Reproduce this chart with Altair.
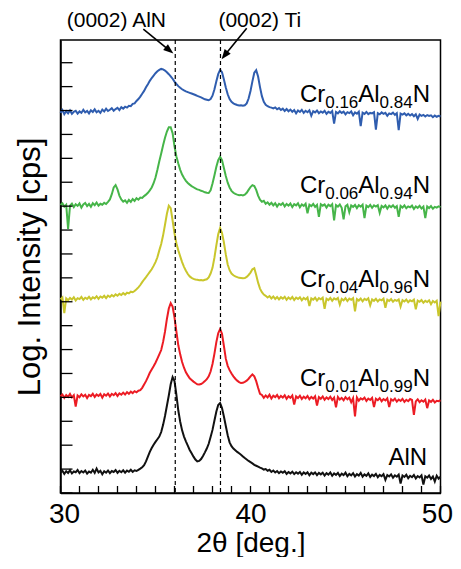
import altair as alt
import pandas as pd

FONT = "Liberation Sans"

# 2-theta grid (deg.)
two_theta = [round(30 + 0.1 * i, 1) for i in range(201)]

# log intensity (decades, stacked with offsets)
log_i_cr016 = [
    15.90, 16.02, 15.85, 15.97, 15.88, 16.00, 15.86, 15.95, 15.99, 15.87,
    15.96, 15.90, 16.03, 15.92, 15.98, 15.88, 16.01, 15.94, 16.05, 15.93,
    15.99, 15.90, 16.04, 15.96, 16.08, 15.98, 16.03, 16.10, 15.99, 16.06,
    16.11, 16.02, 16.14, 16.08, 16.16, 16.12, 16.20, 16.18, 16.28, 16.30,
    16.40, 16.48, 16.58, 16.70, 16.82, 16.97, 17.10, 17.24, 17.36, 17.46,
    17.56, 17.64, 17.70, 17.74, 17.72, 17.67, 17.60, 17.52, 17.43, 17.33,
    17.21, 17.11, 17.02, 16.95, 16.89, 16.84, 16.80, 16.77, 16.74, 16.71,
    16.68, 16.65, 16.61, 16.58, 16.55, 16.51, 16.47, 16.45, 16.43, 16.48,
    16.62, 16.88, 17.21, 17.52, 17.70, 17.60, 17.30, 16.96, 16.68, 16.48,
    16.36, 16.30, 16.26, 16.23, 16.21, 16.22, 16.20, 16.22, 16.30, 16.50,
    16.82, 17.22, 17.58, 17.69, 17.42, 16.98, 16.60, 16.36, 16.24, 16.18,
    16.14, 16.12, 16.09, 16.13, 16.05, 16.10, 16.02, 16.08, 15.98, 16.06,
    15.97, 16.04, 15.95, 16.02, 15.88, 16.00, 15.94, 16.03, 15.90, 15.99,
    15.93, 16.01, 15.78, 15.97, 15.92, 16.00, 15.89, 15.96, 15.91, 15.99,
    15.86, 15.95, 15.90, 15.98, 15.45, 15.94, 15.88, 15.97, 15.90, 15.95,
    15.84, 15.93, 15.89, 15.96, 15.80, 15.92, 15.87, 15.95, 15.35, 15.91,
    15.86, 15.94, 15.85, 15.90, 15.88, 15.93, 15.20, 15.89, 15.84, 15.92,
    15.86, 15.90, 15.78, 15.88, 15.85, 15.91, 15.82, 15.89, 15.18, 15.87,
    15.83, 15.88, 15.80, 15.86, 15.79, 15.85, 15.76, 15.84, 15.65, 15.83,
    15.78, 15.82, 15.75, 15.81, 15.77, 15.80, 15.72, 15.79, 15.74, 15.78,
    15.75,
]

log_i_cr006 = [
    12.05, 12.12, 11.98, 12.06, 11.05, 12.02, 12.10, 11.96, 12.08, 12.01,
    12.11, 11.94, 12.07, 12.13, 12.00, 12.09, 11.97, 12.12, 12.04, 12.15,
    12.02, 12.10, 12.06, 12.14, 12.09, 12.18, 12.28, 12.50, 12.78, 12.88,
    12.70, 12.44, 12.28, 12.19, 12.24, 12.14, 12.26, 12.18, 12.30, 12.22,
    12.33, 12.27, 12.36, 12.34, 12.42, 12.48, 12.56, 12.66, 12.78, 12.96,
    13.20, 13.52, 13.88, 14.20, 14.55, 14.86, 15.12, 15.30, 15.30, 15.05,
    14.50, 14.08, 13.78, 13.52, 13.32, 13.18, 13.06, 12.97, 12.90, 12.84,
    12.79, 12.74, 12.70, 12.68, 12.64, 12.62, 12.58, 12.56, 12.55, 12.66,
    12.95, 13.28, 13.64, 13.92, 14.06, 13.92, 13.60, 13.26, 12.98, 12.78,
    12.64, 12.56, 12.51, 12.48, 12.46, 12.47, 12.45, 12.48, 12.56, 12.68,
    12.80, 12.88, 12.84, 12.68, 12.44, 12.27, 12.18, 12.22, 12.10, 12.16,
    12.06, 12.14, 12.03, 12.12, 11.98, 12.10, 12.05, 12.13, 11.99, 12.09,
    12.02, 12.11, 11.96, 12.08, 12.03, 12.12, 11.95, 12.07, 12.01, 12.10,
    11.70, 12.06, 12.00, 12.09, 11.97, 12.05, 11.55, 12.08, 12.02, 12.07,
    11.94, 12.06, 12.00, 12.08, 11.40, 12.04, 11.98, 12.07, 11.93, 11.45,
    11.99, 12.06, 11.75, 12.03, 11.97, 12.05, 11.92, 12.04, 11.98, 12.06,
    11.50, 12.02, 11.96, 12.05, 11.93, 12.03, 11.98, 12.04, 11.72, 12.01,
    11.95, 12.03, 11.90, 12.02, 11.96, 12.04, 11.93, 12.00, 11.55, 12.01,
    11.94, 12.03, 11.91, 11.99, 11.95, 12.02, 11.88, 11.99, 11.93, 12.01,
    11.90, 11.98, 11.50, 11.99, 11.92, 12.00, 11.89, 11.97, 11.94, 11.99,
    11.96,
]

log_i_cr004 = [
    8.10, 8.18, 7.52, 8.14, 8.06, 8.16, 8.09, 8.19, 8.05, 8.15,
    8.11, 8.20, 8.08, 8.17, 8.12, 8.21, 8.10, 8.19, 8.14, 8.23,
    8.12, 8.22, 8.17, 8.25, 8.15, 8.26, 8.20, 8.28, 8.22, 8.31,
    8.25, 8.33, 8.28, 8.36, 8.30, 8.38, 8.35, 8.42, 8.40, 8.45,
    8.52, 8.60, 8.70, 8.82, 8.93, 9.03, 9.14, 9.25, 9.36, 9.50,
    9.66, 9.86, 10.15, 10.42, 10.78, 11.22, 11.68, 12.02, 11.92, 11.40,
    10.86, 10.45, 10.15, 9.90, 9.66, 9.46, 9.30, 9.16, 9.06, 9.00,
    8.96, 8.93, 8.92, 8.90, 8.91, 8.89, 8.92, 8.94, 9.02, 9.18,
    9.42, 9.84, 10.35, 10.82, 11.08, 10.88, 10.48, 9.98, 9.56, 9.32,
    9.18, 9.11, 9.06, 9.03, 9.00, 8.99, 8.98, 8.99, 9.04, 9.12,
    9.22, 9.36, 9.40, 9.12, 8.80, 8.55, 8.40, 8.30, 8.25, 8.18,
    8.24, 8.14, 8.22, 8.12, 8.20, 8.10, 8.19, 8.13, 8.21, 8.08,
    8.18, 8.11, 8.20, 8.07, 8.17, 8.12, 8.19, 8.06, 8.16, 8.10,
    8.18, 7.82, 8.14, 8.09, 8.17, 8.05, 8.15, 8.10, 8.17, 7.70,
    8.13, 8.07, 8.16, 8.04, 8.14, 8.09, 8.16, 7.88, 8.12, 8.06,
    8.15, 8.03, 8.13, 8.08, 8.15, 7.60, 8.11, 8.05, 8.13, 8.02,
    8.12, 8.07, 8.14, 7.85, 8.10, 8.04, 8.12, 8.01, 8.10, 8.06,
    8.13, 7.75, 8.09, 8.03, 8.11, 8.00, 8.08, 8.04, 8.10, 7.80,
    8.07, 8.01, 8.09, 7.98, 8.06, 8.02, 8.09, 7.68, 8.05, 8.00,
    8.07, 7.96, 8.04, 7.99, 8.06, 7.90, 8.03, 7.97, 8.04, 7.40,
    8.01,
]

log_i_cr001 = [
    4.05, 4.12, 3.98, 4.10, 4.02, 4.14, 4.00, 4.09, 3.62, 4.08,
    4.01, 4.13, 4.04, 4.11, 3.97, 4.10, 4.05, 4.15, 4.02, 4.12,
    4.06, 4.14, 3.99, 4.13, 4.07, 4.16, 4.04, 4.15, 4.09, 4.18,
    4.06, 4.17, 4.11, 4.20, 4.12, 4.22, 4.15, 4.24, 4.18, 4.26,
    4.21, 4.28, 4.30, 4.40, 4.54, 4.68, 4.85, 5.03, 5.17, 5.30,
    5.45, 5.62, 5.80, 5.98, 6.32, 6.75, 7.28, 7.72, 7.94, 7.80,
    7.35, 6.75, 6.18, 5.80, 5.48, 5.24, 5.05, 4.92, 4.80, 4.73,
    4.66, 4.60, 4.55, 4.54, 4.56, 4.61, 4.68, 4.76, 4.88, 5.08,
    5.40, 5.82, 6.30, 6.68, 6.86, 6.66, 6.15, 5.62, 5.32, 5.14,
    5.00, 4.88, 4.78, 4.70, 4.64, 4.60, 4.61, 4.65, 4.70, 4.78,
    4.88, 4.96, 4.88, 4.68, 4.40, 4.15, 4.10, 3.98, 4.08, 4.00,
    4.11, 3.95, 4.07, 4.01, 4.10, 3.96, 4.06, 3.99, 4.09, 3.94,
    4.05, 3.98, 4.08, 3.70, 4.04, 3.97, 4.07, 3.93, 4.03, 3.96,
    4.06, 3.92, 4.02, 3.95, 4.05, 3.66, 4.01, 3.94, 4.04, 3.90,
    4.00, 3.93, 4.03, 3.89, 3.99, 3.58, 4.02, 3.91, 3.98, 3.88,
    4.01, 3.92, 3.99, 3.80, 3.97, 3.20, 4.00, 3.86, 3.96, 3.91,
    3.99, 3.85, 3.95, 3.89, 3.98, 3.60, 3.94, 3.88, 3.97, 3.84,
    3.93, 3.87, 3.96, 3.60, 3.92, 3.86, 3.95, 3.82, 3.91, 3.85,
    3.94, 3.81, 3.90, 3.84, 3.93, 3.89, 3.27, 3.83, 3.92, 3.80,
    3.88, 3.82, 3.91, 3.55, 3.87, 3.81, 3.90, 3.79, 3.86, 3.84,
    3.88,
]

log_i_aln = [
    0.86, 0.93, 0.80, 0.91, 0.84, 0.95, 0.82, 0.90, 0.87, 0.96,
    0.83, 0.92, 0.86, 0.94, 0.81, 0.90, 0.85, 0.97, 0.84, 1.02,
    0.86, 0.93, 0.78, 0.91, 0.85, 0.94, 0.83, 0.92, 0.88, 0.96,
    0.84, 0.93, 0.87, 0.95, 0.85, 0.94, 0.89, 0.97, 0.88, 0.95,
    0.92, 0.97, 1.02, 1.08, 1.16, 1.32, 1.52, 1.72, 1.88, 2.02,
    2.14, 2.25, 2.36, 2.55, 2.85, 3.22, 3.65, 4.08, 4.55, 4.85,
    4.68, 4.10, 3.45, 2.98, 2.62, 2.36, 2.16, 1.98, 1.80, 1.66,
    1.52, 1.40, 1.32, 1.34, 1.42, 1.55, 1.70, 1.86, 2.06, 2.34,
    2.64, 3.02, 3.40, 3.68, 3.76, 3.55, 3.20, 2.80, 2.42, 2.12,
    1.96, 1.86, 1.79, 1.72, 1.66, 1.60, 1.53, 1.46, 1.40, 1.34,
    1.29, 1.24, 1.18, 1.14, 1.10, 1.06, 1.03, 0.98, 1.00, 0.93,
    0.97, 0.88, 0.94, 0.86, 0.92, 0.83, 0.90, 0.85, 0.91, 0.80,
    0.88, 0.82, 0.89, 0.79, 0.87, 0.81, 0.88, 0.76, 0.86, 0.80,
    0.87, 0.74, 0.85, 0.79, 0.86, 0.75, 0.84, 0.78, 0.85, 0.73,
    0.83, 0.77, 0.86, 0.72, 0.82, 0.76, 0.84, 0.71, 0.81, 0.75,
    0.85, 0.70, 0.80, 0.74, 0.83, 0.69, 0.79, 0.73, 0.84, 0.68,
    0.78, 0.72, 0.82, 0.67, 0.77, 0.71, 0.80, 0.66, 0.76, 0.70,
    0.79, 0.55, 0.75, 0.69, 0.78, 0.64, 0.74, 0.68, 0.77, 0.40,
    0.73, 0.67, 0.76, 0.62, 0.72, 0.66, 0.75, 0.61, 0.71, 0.65,
    0.74, 0.35, 0.70, 0.64, 0.73, 0.59, 0.69, 0.48, 0.72, 0.60,
    0.68,
]

sample_names = ["AlN", "Cr0.01Al0.99N", "Cr0.04Al0.96N", "Cr0.06Al0.94N", "Cr0.16Al0.84N"]
sample_colors = ["#111111", "#EC1C24", "#C9C62C", "#46B549", "#2F5DAF"]
series = [log_i_aln, log_i_cr001, log_i_cr004, log_i_cr006, log_i_cr016]

# reference lines (deg.)
peak_lines = [36.04, 38.42]

# Cr-containing labels
label_left = 42.6
label_base = [16.37, 12.54, 8.61, 4.46]
label_sub1 = ["0.16", "0.06", "0.04", "0.01"]
label_sub2 = ["0.84", "0.94", "0.96", "0.99"]

# annotations
ann_text = ["(0002) AlN", "(0002) Ti"]
ann_x = [30.33, 38.31]
ann_y = [19.51, 19.51]
arrow_x = [34.36, 39.80]
arrow_y = [19.40, 19.44]
arrow_x2 = [35.73, 38.64]
arrow_y2 = [18.52, 18.31]
tip_x = [35.94, 38.48]
tip_y = [18.39, 18.14]
tip_angle = [128.7, 217.2]

y_tick_values = list(range(0, 19))
x_tick_values = list(range(30, 51))

rows = []
for name, vals in zip(sample_names, series):
    if len(vals) != len(two_theta):
        raise ValueError(f"{name}: {len(vals)} values")
    for t, v in zip(two_theta, vals):
        rows.append({"tt": t, "logI": v, "sample": name})
df = pd.DataFrame(rows)

W, H = 380, 453
xs = alt.Scale(domain=[30, 50], nice=False, zero=False)
ys = alt.Scale(domain=[0, 18.95], nice=False, zero=False)

x_axis = alt.Axis(
    values=[30, 40, 50], tickSize=0, grid=False, labelFontSize=28,
    labelPadding=7, labelFlush=True, labelFlushOffset=12, title="2θ [deg.]", titleFontSize=28,
    titlePadding=1, titleFontWeight="normal", domainColor="black",
    domainWidth=1.5, labelColor="black", titleColor="black",
    labelFont=FONT, titleFont=FONT)
y_axis = alt.Axis(
    labels=False, ticks=False, grid=False, title="Log. Intensity [cps]",
    titleFontSize=31, titlePadding=14, titleFontWeight="normal",
    domainColor="black", domainWidth=1.5, titleColor="black", titleFont=FONT)


def X(field):
    return alt.X(field, scale=xs, axis=x_axis)


def Y(field):
    return alt.Y(field, scale=ys, axis=y_axis)


lines = alt.Chart(df).mark_line(strokeWidth=2.0).encode(
    x=X("tt:Q"),
    y=Y("logI:Q"),
    color=alt.Color("sample:N", scale=alt.Scale(domain=sample_names, range=sample_colors), legend=None),
)

dashed = alt.Chart(pd.DataFrame({"tt": peak_lines})).mark_rule(
    strokeDash=[4, 3], color="black", strokeWidth=1.2
).encode(x=X("tt:Q"))

yt = alt.Chart(pd.DataFrame({"logI": y_tick_values})).mark_rule(color="black", strokeWidth=1.3).encode(
    y=Y("logI:Q"), x=alt.value(0), x2=alt.value(12))
xt = alt.Chart(pd.DataFrame({"tt": x_tick_values})).mark_rule(color="black", strokeWidth=1.3).encode(
    x=X("tt:Q"), y=alt.value(H), y2=alt.value(H - 7))

arrows = alt.Chart(pd.DataFrame({"tt": arrow_x, "logI": arrow_y, "tt2": arrow_x2, "logI2": arrow_y2})).mark_rule(
    color="black", strokeWidth=1.6).encode(
    x=X("tt:Q"), y=Y("logI:Q"), x2="tt2:Q", y2="logI2:Q")

heads = alt.Chart(pd.DataFrame({"tt": tip_x, "logI": tip_y, "ang": tip_angle})).mark_point(
    shape="M0,0L0.38,1L-0.38,1Z", filled=True, size=400, color="black", opacity=1, strokeWidth=0
).encode(x=X("tt:Q"), y=Y("logI:Q"), angle=alt.Angle("ang:Q", scale=None))

ann = alt.Chart(pd.DataFrame({"tt": ann_x, "logI": ann_y, "text": ann_text})).mark_text(
    align="left", baseline="alphabetic", fontSize=21, font=FONT, color="black"
).encode(x=X("tt:Q"), y=Y("logI:Q"), text="text:N")

lab_df = pd.DataFrame({"tt": [label_left] * 4, "logI": label_base, "s1": label_sub1, "s2": label_sub2})
lab_base = alt.Chart(lab_df).encode(x=X("tt:Q"), y=Y("logI:Q"))
t_cr = lab_base.mark_text(text="Cr", align="left", baseline="alphabetic", fontSize=24, font=FONT, color="black")
t_s1 = lab_base.mark_text(align="left", baseline="alphabetic", fontSize=17, font=FONT, color="black",
                          dx=25.3, dy=6).encode(text="s1:N")
t_al = lab_base.mark_text(text="Al", align="left", baseline="alphabetic", fontSize=24, font=FONT,
                          color="black", dx=58.4)
t_s2 = lab_base.mark_text(align="left", baseline="alphabetic", fontSize=17, font=FONT, color="black",
                          dx=79.7, dy=6).encode(text="s2:N")
t_n = lab_base.mark_text(text="N", align="left", baseline="alphabetic", fontSize=24, font=FONT,
                         color="black", dx=112.8)

aln_lbl = alt.Chart(pd.DataFrame({"tt": [49.3], "logI": [1.18], "text": ["AlN"]})).mark_text(
    align="right", baseline="alphabetic", fontSize=24, font=FONT, color="black"
).encode(x=X("tt:Q"), y=Y("logI:Q"), text="text:N")

chart = alt.layer(
    lines, dashed, yt, xt, arrows, heads, ann, t_cr, t_s1, t_al, t_s2, t_n, aln_lbl
).properties(
    width=W, height=H,
    autosize=alt.AutoSizeParams(type="none"),
    padding={"left": 52.5, "top": 32, "right": 12, "bottom": 64},
    background="white",
).configure_view(stroke="black", strokeWidth=1.5)

chart.save("out.html", embed_options={"renderer": "svg", "actions": False})
